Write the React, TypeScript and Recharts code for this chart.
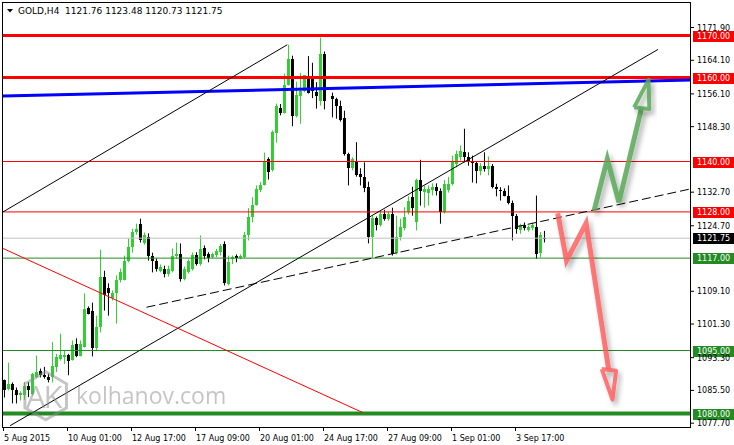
import { ComposedChart, Bar, Line, XAxis, YAxis, ReferenceLine } from 'recharts'

const SYMBOL = 'GOLD,H4'
const LAST_BAR = [1121.76, 1123.48, 1120.73, 1121.75]

// H4 candles, one per bar index (81 has no print)
const OPEN = [
  1087.9, 1085.9, 1087.1, 1085.7, 1084.3, 1084.3, 1086.5, 1084.7, 1088.7, 1090.1,
  1089.1, 1088.7, 1088.7, 1091.1, 1093.0, 1093.4, 1094.0, 1092.8, 1096.6, 1093.8,
  1095.9, 1105.1, 1104.5, 1095.7, 1100.5, 1112.6, 1110.0, 1107.4, 1108.6, 1111.7,
  1111.9, 1116.4, 1119.6, 1123.1, 1125.2, 1120.7, 1122.1, 1117.6, 1116.2, 1114.0,
  1114.5, 1113.3, 1114.0, 1117.4, 1117.9, 1112.1, 1113.6, 1114.5, 1117.8, 1115.7,
  1119.5, 1117.9, 1117.2, 1117.8, 1118.4, 1120.4, 1110.9, 1116.8, 1117.5, 1117.0,
  1117.2, 1122.5, 1126.7, 1129.7, 1133.3, 1134.5, 1140.6, 1137.9, 1146.9, 1152.7,
  1151.6, 1158.3, 1164.3, 1150.8, 1155.7, 1156.9, 1160.3, 1159.7, 1156.5, 1154.5,
  1165.6, null, 1155.5, 1154.9, 1153.3, 1150.3, 1141.8, 1138.4, 1139.8, 1137.1,
  1136.3, 1134.0, 1122.0, 1126.6, 1125.0, 1127.4, 1126.4, 1127.4, 1118.2, 1122.0,
  1124.2, 1127.9, 1131.5, 1125.5, 1135.6, 1132.7, 1132.4, 1133.1, 1133.9, 1132.9,
  1127.9, 1133.3, 1134.7, 1139.5, 1141.0, 1142.2, 1141.0, 1140.1, 1139.6, 1137.7,
  1139.0, 1138.1, 1138.9, 1134.0, 1133.3, 1132.9, 1131.9, 1130.1, 1127.1, 1123.6,
  1124.8, 1123.6, 1124.1, 1124.4, 1118.2, LAST_BAR[0],
]
const HIGH = [
  1088.1, 1092.1, 1087.4, 1086.2, 1085.3, 1087.5, 1087.5, 1089.7, 1093.8, 1090.7,
  1091.1, 1089.5, 1097.0, 1094.2, 1099.0, 1095.0, 1094.2, 1097.4, 1097.9, 1097.4,
  1108.6, 1105.5, 1106.4, 1103.3, 1119.0, 1114.0, 1111.0, 1109.3, 1112.9, 1114.5,
  1117.6, 1121.7, 1124.0, 1125.2, 1126.4, 1123.1, 1122.9, 1118.3, 1116.9, 1115.5,
  1115.2, 1115.2, 1119.3, 1120.7, 1120.5, 1115.0, 1116.7, 1118.3, 1118.4, 1122.4,
  1120.0, 1118.4, 1118.3, 1119.2, 1120.4, 1121.0, 1117.6, 1117.6, 1117.9, 1117.9,
  1123.2, 1128.9, 1131.5, 1134.3, 1135.1, 1142.1, 1141.0, 1147.4, 1153.8, 1153.7,
  1160.9, 1167.8, 1165.2, 1159.0, 1161.1, 1160.6, 1165.1, 1163.5, 1158.9, 1169.5,
  1166.2, null, 1156.4, 1155.2, 1154.5, 1152.1, 1142.1, 1141.0, 1144.6, 1138.4,
  1139.8, 1135.2, 1127.1, 1126.9, 1128.3, 1128.5, 1128.1, 1129.0, 1127.1, 1126.4,
  1129.1, 1131.7, 1134.0, 1135.9, 1140.4, 1134.3, 1134.3, 1134.8, 1134.8, 1133.6,
  1135.6, 1136.3, 1141.4, 1142.6, 1143.8, 1147.8, 1142.2, 1141.4, 1140.0, 1139.6,
  1142.2, 1141.2, 1139.4, 1134.7, 1133.9, 1133.6, 1134.3, 1130.7, 1127.5, 1125.2,
  1125.5, 1124.8, 1125.5, 1131.9, 1123.2, LAST_BAR[1],
]
const LOW = [
  1083.8, 1085.5, 1082.4, 1082.4, 1083.1, 1083.3, 1083.9, 1084.3, 1088.4, 1088.6,
  1088.3, 1087.4, 1087.4, 1089.9, 1092.6, 1091.8, 1089.1, 1092.6, 1093.4, 1093.6,
  1095.7, 1103.6, 1093.6, 1095.0, 1099.3, 1104.5, 1103.3, 1106.9, 1101.4, 1111.2,
  1111.7, 1116.0, 1118.3, 1122.6, 1120.7, 1120.2, 1116.4, 1113.6, 1113.8, 1113.6,
  1112.4, 1112.6, 1113.6, 1116.9, 1111.4, 1111.7, 1113.3, 1114.0, 1115.2, 1115.2,
  1116.7, 1116.0, 1116.9, 1117.2, 1117.6, 1110.5, 1110.5, 1115.6, 1116.0, 1116.7,
  1117.0, 1121.2, 1125.5, 1129.5, 1132.7, 1134.3, 1135.7, 1137.6, 1144.5, 1151.0,
  1151.4, 1158.1, 1148.4, 1150.5, 1149.0, 1156.5, 1156.2, 1155.1, 1152.6, 1153.3,
  1152.4, null, 1150.5, 1150.2, 1149.5, 1141.4, 1134.3, 1137.9, 1136.4, 1134.3,
  1132.7, 1120.5, 1117.1, 1123.6, 1124.5, 1125.9, 1125.9, 1117.6, 1117.9, 1121.2,
  1123.6, 1127.4, 1127.1, 1123.6, 1129.5, 1129.0, 1129.5, 1131.9, 1131.9, 1125.2,
  1127.6, 1132.6, 1134.3, 1138.6, 1140.2, 1139.8, 1139.0, 1135.0, 1134.8, 1136.7,
  1137.6, 1136.7, 1133.6, 1131.7, 1130.7, 1131.7, 1129.8, 1121.2, 1122.8, 1122.8,
  1123.6, 1123.3, 1123.6, 1116.8, 1117.2, LAST_BAR[2],
]
const CLOSE = [
  1085.7, 1087.1, 1085.7, 1084.3, 1084.8, 1086.5, 1085.7, 1089.5, 1089.9, 1089.1,
  1088.6, 1087.9, 1091.3, 1093.4, 1094.0, 1094.0, 1092.6, 1096.4, 1093.8, 1096.6,
  1104.8, 1103.8, 1095.7, 1100.5, 1112.4, 1108.1, 1108.6, 1108.6, 1111.9, 1113.8,
  1116.4, 1119.6, 1123.3, 1124.0, 1121.2, 1122.4, 1117.6, 1116.2, 1114.3, 1114.8,
  1113.3, 1114.5, 1117.6, 1117.9, 1112.1, 1114.5, 1116.2, 1117.8, 1115.6, 1119.2,
  1117.6, 1117.0, 1118.0, 1118.6, 1120.0, 1111.0, 1116.0, 1117.2, 1117.0, 1117.5,
  1122.5, 1126.7, 1129.7, 1133.5, 1134.5, 1140.2, 1137.6, 1147.1, 1153.1, 1151.6,
  1158.3, 1164.4, 1150.8, 1155.9, 1156.9, 1160.5, 1156.4, 1156.9, 1155.7, 1165.6,
  1154.5, null, 1154.9, 1153.2, 1149.8, 1141.8, 1138.4, 1140.5, 1136.8, 1136.3,
  1133.6, 1122.0, 1126.6, 1124.8, 1127.5, 1126.4, 1127.5, 1118.0, 1122.1, 1124.4,
  1126.9, 1130.7, 1129.0, 1135.6, 1132.9, 1133.5, 1133.5, 1133.9, 1132.9, 1127.9,
  1134.7, 1134.7, 1140.2, 1141.9, 1142.6, 1141.0, 1140.1, 1139.6, 1137.7, 1139.0,
  1138.1, 1138.9, 1134.0, 1133.5, 1132.9, 1131.9, 1130.1, 1127.1, 1124.0, 1124.8,
  1124.2, 1124.5, 1124.8, 1118.0, 1122.4, LAST_BAR[3],
]

const TIME_TICKS = [0, 16, 32, 48, 64, 80, 96, 112, 128]
const TIME_LABELS = [
  '5 Aug 2015', '10 Aug 01:00', '12 Aug 17:00', '17 Aug 09:00', '20 Aug 01:00',
  '24 Aug 17:00', '27 Aug 09:00', '1 Sep 01:00', '3 Sep 17:00',
]
const PRICE_TICKS = [1171.9, 1164.1, 1156.1, 1148.3, 1132.7, 1124.7, 1109.1, 1101.3, 1093.3, 1085.5, 1077.7]
const X_DOMAIN = [-0.375, 171.625]
const Y_DOMAIN = [1076.55, 1177.98]

const RESISTANCE = [1170, 1160, 1140, 1128]
const SUPPORT = [1117, 1095, 1080]
const STRONG_LEVELS = [1170, 1160, 1080]

// drawn objects, as [bar index, price]
const CHANNEL_UPPER = [[-0.375, 1128.0], [70.7, 1167.8]]
const CHANNEL_LOWER = [[1.4, 1077.1], [163.4, 1166.7]]
const RISING_SUPPORT = [[35.5, 1105.3], [171.625, 1133.5]]
const FALLING_LINE = [[-0.375, 1119.3], [89.6, 1080.2]]
const BLUE_LINE = [[-0.375, 1155.6], [171.625, 1159.4]]

const BEAR_PATH = [[138.3, 1127.7], [140.5, 1116.4], [145.4, 1125.3], [151.0, 1090.7]]
const BEAR_HEAD = [[149.3, 1090.6], [152.0, 1083.3], [152.9, 1090.2], [149.3, 1090.6]]
const BULL_PATH = [[147.4, 1128.3], [150.7, 1140.6], [153.6, 1130.3], [159.3, 1152.9]]
const BULL_HEAD = [[157.4, 1152.9], [161.0, 1159.45], [161.2, 1152.5], [157.4, 1152.9]]

const UP = '#32cd32'
const DOWN = '#000000'
const RED = '#ff0000'
const GREEN = '#228b22'
const FONT = '"DejaVu Sans", sans-serif'

const rows = OPEN.map((o, i) => ({
  i,
  o,
  h: HIGH[i],
  l: LOW[i],
  c: CLOSE[i],
  range: o == null ? null : [LOW[i], HIGH[i]],
}))

const pts = (arr: number[][]) => arr.map(([i, p]) => ({ i, p }))
const seg = (arr: number[][]) => arr.map(([i, p]) => ({ x: i, y: p }))

function Candle(props: any) {
  const { x, y, width, height, payload } = props
  if (!payload || payload.o == null || height == null) return null
  const { o, h, l, c } = payload
  const top = Math.min(y, y + height)
  const span = Math.abs(height)
  const k = h === l ? 0 : span / (h - l)
  const at = (v: number) => top + (h - v) * k
  const color = c >= o ? UP : DOWN
  const bodyTop = Math.round(at(Math.max(o, c)))
  const bodyBot = Math.round(at(Math.min(o, c)))
  const cx = x + width / 2
  return (
    <g>
      <line x1={cx} x2={cx} y1={top} y2={top + span} stroke={color} strokeWidth={1} />
      <rect x={cx - 1.5} y={bodyTop} width={3} height={Math.max(1, bodyBot - bodyTop)} fill={color} />
    </g>
  )
}

function TimeTick({ x, y, payload }: any) {
  const k = TIME_TICKS.indexOf(payload.value)
  return (
    <g>
      <line x1={x - 1} x2={x - 1} y1={y} y2={y + 3} stroke="#000" />
      <text x={x - 0.5} y={y + 13} fontSize={8} fontFamily={FONT} fill="#000" textAnchor="start">
        {TIME_LABELS[k]}
      </text>
    </g>
  )
}

function PriceTick({ x, y, payload }: any) {
  return (
    <g>
      <line x1={x} x2={x + 3} y1={y} y2={y} stroke="#000" />
      <text x={x + 6} y={y + 3} fontSize={8} fontFamily={FONT} fill="#000" textAnchor="start">
        {payload.value.toFixed(2)}
      </text>
    </g>
  )
}

function tag(price: number, bg: string) {
  return ({ viewBox }: any) => {
    const right = viewBox.x + viewBox.width
    return (
      <g>
        <rect x={right + 2} y={Math.round(viewBox.y) - 5} width={42} height={11} fill={bg} />
        <text x={right + 6} y={viewBox.y + 3} fontSize={8} fontFamily={FONT} fill="#fff">
          {price.toFixed(2)}
        </text>
      </g>
    )
  }
}

function Overlay() {
  const cx = 45.7
  const cy = 395.8
  const r = 24
  const hex = [90, 30, -30, -90, -150, 150]
    .map((a) => `${cx + r * Math.cos((a * Math.PI) / 180)},${cy - r * Math.sin((a * Math.PI) / 180)}`)
    .join(' ')
  return (
    <svg width={734} height={445} style={{ position: 'absolute', left: 0, top: 0, pointerEvents: 'none' }}>
      <rect x={2.5} y={2.5} width={688} height={425} fill="none" stroke="#000" strokeWidth={1} />
      <polygon points="7,9 13,9 10,12.5" fill="#000" />
      <text x={18} y={14} fontSize={9} fontFamily={FONT} fill="#000" xmlSpace="preserve">
        {`${SYMBOL}  ${LAST_BAR.map((v) => v.toFixed(2)).join(' ')}`}
      </text>
      <g opacity={0.5}>
        <polygon points={hex} fill="none" stroke="#8c8c8c" strokeWidth={3} />
        <text x={26} y={408} fontSize={31} fontFamily='"Open Sans", sans-serif' fill="#8c8c8c" letterSpacing={-2}>
          AK
        </text>
        <text x={76} y={404} fontSize={23} fontFamily='"Open Sans", sans-serif' fill="#8c8c8c">
          kolhanov.com
        </text>
      </g>
    </svg>
  )
}

export default function App() {
  return (
    <div style={{ position: 'absolute', left: 0, top: 0, width: 734, height: 445, background: '#fff', fontFamily: FONT }}>
      <ComposedChart width={734} height={445} data={rows} margin={{ top: 2, right: 0, bottom: 0, left: 3 }}>
        <defs>
          <filter id="arrowShadow" x="-50%" y="-50%" width="200%" height="200%">
            <feDropShadow dx="3" dy="4" stdDeviation="2.5" floodColor="#000" floodOpacity="0.35" />
          </filter>
        </defs>
        <XAxis
          dataKey="i"
          type="number"
          domain={X_DOMAIN}
          allowDataOverflow
          ticks={TIME_TICKS}
          interval={0}
          tick={<TimeTick />}
          tickLine={false}
          tickSize={0}
          tickMargin={0}
          axisLine={false}
          height={17}
        />
        <YAxis
          orientation="right"
          type="number"
          domain={Y_DOMAIN}
          allowDataOverflow
          ticks={PRICE_TICKS}
          interval={0}
          tick={<PriceTick />}
          tickLine={false}
          tickSize={0}
          tickMargin={0}
          axisLine={false}
          width={43}
        />
        <Bar dataKey="range" barSize={3} shape={<Candle />} isAnimationActive={false} />

        <ReferenceLine y={LAST_BAR[3]} stroke="#c0c0c0" strokeWidth={1} ifOverflow="visible" label={tag(LAST_BAR[3], '#000')} />
        {RESISTANCE.map((p) => (
          <ReferenceLine key={p} y={p} stroke={RED} strokeWidth={STRONG_LEVELS.includes(p) ? 3 : 1} ifOverflow="visible" label={tag(p, RED)} />
        ))}
        {SUPPORT.map((p) => (
          <ReferenceLine key={p} y={p} stroke={GREEN} strokeWidth={STRONG_LEVELS.includes(p) ? 4 : 1} ifOverflow="visible" label={tag(p, GREEN)} />
        ))}

        <ReferenceLine segment={seg(BLUE_LINE)} stroke="#0000ff" strokeWidth={3} ifOverflow="visible" />
        <ReferenceLine segment={seg(CHANNEL_UPPER)} stroke="#000" strokeWidth={1} ifOverflow="visible" />
        <ReferenceLine segment={seg(CHANNEL_LOWER)} stroke="#000" strokeWidth={1} ifOverflow="visible" />
        <ReferenceLine segment={seg(RISING_SUPPORT)} stroke="#000" strokeWidth={1} strokeDasharray="9 4" ifOverflow="visible" />
        <ReferenceLine segment={seg(FALLING_LINE)} stroke={RED} strokeWidth={1} ifOverflow="visible" />

        <Line data={pts(BEAR_PATH)} dataKey="p" type="linear" stroke="#ff5a5a" strokeOpacity={0.8} strokeWidth={5} dot={false} activeDot={false} isAnimationActive={false} filter="url(#arrowShadow)" />
        <Line data={pts(BEAR_HEAD)} dataKey="p" type="linear" stroke="#ff5a5a" strokeOpacity={0.8} strokeWidth={4} strokeLinejoin="round" dot={false} activeDot={false} isAnimationActive={false} filter="url(#arrowShadow)" />
        <Line data={pts(BULL_PATH)} dataKey="p" type="linear" stroke="#5aa85a" strokeOpacity={0.85} strokeWidth={5} dot={false} activeDot={false} isAnimationActive={false} filter="url(#arrowShadow)" />
        <Line data={pts(BULL_HEAD)} dataKey="p" type="linear" stroke="#5aa85a" strokeOpacity={0.85} strokeWidth={4} strokeLinejoin="round" dot={false} activeDot={false} isAnimationActive={false} filter="url(#arrowShadow)" />
      </ComposedChart>
      <Overlay />
    </div>
  )
}
